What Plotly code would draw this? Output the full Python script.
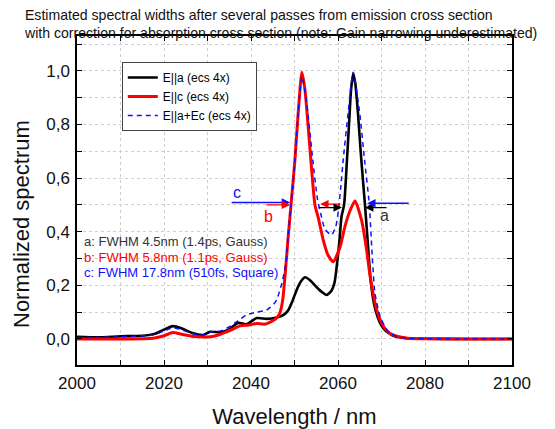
import plotly.graph_objects as go

# ---------------- data ----------------
title_text = ("Estimated spectral widths after several passes from emission cross section<br>"
              "with correction for absorption cross section (note: Gain narrowing underestimated)")

series_names = ["E||a (ecs 4x)", "E||c (ecs 4x)", "E||a+Ec (ecs 4x)"]

wl_a = [2000, 2005, 2010, 2015, 2018, 2020, 2022, 2024, 2026.5, 2029, 2030.6, 2033, 2035,
        2037, 2039, 2041.3, 2043.6, 2045.9, 2047.5, 2048.6, 2049.5, 2050.5, 2051.5, 2052.4,
        2053.5, 2055.1, 2056.3, 2057.4, 2058.5, 2059.2, 2059.7, 2060.3, 2060.8, 2061.4,
        2062.0, 2062.6, 2063.0, 2063.5, 2064.0, 2064.6, 2065.3, 2066.2, 2066.8, 2067.5,
        2068.3, 2069.1, 2070.0, 2071.0, 2071.8, 2073.0, 2075.6, 2080, 2090, 2100]
spec_a = [0.008, 0.006, 0.010, 0.012, 0.020, 0.035, 0.048, 0.040, 0.022, 0.015, 0.027, 0.025, 0.036,
          0.060, 0.055, 0.078, 0.075, 0.080, 0.090, 0.108, 0.140, 0.183, 0.215, 0.230,
          0.220, 0.193, 0.175, 0.164, 0.180, 0.210, 0.270, 0.360, 0.456, 0.500,
          0.650, 0.820, 0.930, 0.990, 0.950, 0.840, 0.680, 0.500, 0.370, 0.220,
          0.130, 0.083, 0.050, 0.030, 0.021, 0.010, 0.003, 0.001, 0.0, 0.0]

wl_c = [2000, 2010, 2017.5, 2020, 2022, 2024, 2026, 2028, 2030.6, 2032.5, 2034.4, 2036, 2037.5,
        2039.5, 2041.3, 2043.1, 2045.0, 2046.0, 2046.7, 2047.3, 2048.0, 2048.6, 2049.2, 2050.1,
        2050.9, 2051.7, 2052.4, 2053.2, 2054.0, 2054.7, 2055.5, 2056.6, 2057.7, 2058.9, 2060.5,
        2061.6, 2062.8, 2063.9, 2065.4, 2066.6, 2067.4, 2068.9, 2070.0, 2071.0, 2072.0, 2073.5,
        2076, 2080, 2090, 2100]
spec_c = [0.0, 0.0, 0.003, 0.012, 0.024, 0.018, 0.011, 0.008, 0.008, 0.015, 0.027, 0.038, 0.049,
          0.052, 0.058, 0.055, 0.068, 0.080, 0.100, 0.146, 0.270, 0.390, 0.500, 0.668,
          0.854, 0.995, 0.930, 0.780, 0.620, 0.500, 0.450, 0.370, 0.313, 0.288, 0.344,
          0.420, 0.480, 0.515, 0.444, 0.330, 0.232, 0.108, 0.060, 0.035, 0.020, 0.010,
          0.003, 0.001, 0.0, 0.0]

wl_ac = [2000, 2010, 2017.5, 2020, 2022, 2024, 2026.5, 2029, 2030.6, 2033, 2035, 2037, 2039,
         2041.3, 2043.6, 2044.4, 2045.2, 2045.9, 2047.1, 2048.0, 2048.6, 2049.2, 2050.1, 2050.9,
         2051.7, 2052.8, 2054.2, 2055.3, 2056.2, 2057.0, 2058.5, 2059.5, 2060.1, 2060.6, 2061.2,
         2062.4, 2063.5, 2064.9, 2066.1, 2067.2, 2067.9, 2068.5, 2069.7, 2071.0, 2072.0, 2073.5,
         2076, 2080, 2100]
spec_ac = [0.005, 0.008, 0.015, 0.030, 0.042, 0.035, 0.020, 0.015, 0.025, 0.030, 0.045, 0.068, 0.090,
           0.100, 0.108, 0.118, 0.130, 0.146, 0.208, 0.280, 0.400, 0.500, 0.670, 0.850,
           0.980, 0.880, 0.668, 0.520, 0.456, 0.410, 0.388, 0.420, 0.480, 0.560, 0.668,
           0.854, 0.995, 0.854, 0.668, 0.500, 0.300, 0.170, 0.083, 0.040, 0.020, 0.010,
           0.003, 0.001, 0.0]

fwhm_labels = ["a: FWHM 4.5nm (1.4ps, Gauss)", "b: FWHM 5.8nm (1.1ps, Gauss)",
               "c: FWHM 17.8nm (510fs, Square)"]
fwhm_y = [0.363, 0.305, 0.247]

arrow_head_x = [2049.0, 2049.0, 2055.9, 2060.9, 2066.2, 2066.7]
arrow_tail_x = [2035.2, 2043.2, 2060.9, 2055.2, 2071.5, 2076.6]
arrow_y = [0.509, 0.500, 0.503, 0.490, 0.490, 0.506]

letter_text = ["c", "b", "a"]
letter_x = [2036.8, 2044.1, 2070.8]
letter_y = [0.545, 0.455, 0.462]

x_tickvals = [2000, 2020, 2040, 2060, 2080, 2100]
y_tickvals = [0.0, 0.2, 0.4, 0.6, 0.8, 1.0]
y_ticktext = ["0,0", "0,2", "0,4", "0,6", "0,8", "1,0"]

x_title = "Wavelength / nm"
y_title = "Normalized spectrum"

# ---------------- styles ----------------
FONT = "Arial, 'Liberation Sans', sans-serif"
BLACK = "#000000"
RED = "#ff0000"
BLUE = "#1010ff"
text_colors = ["#333333", RED, BLUE]
arrow_colors = [BLUE, RED, RED, BLACK, BLACK, BLUE]
letter_colors = [BLUE, RED, "#333333"]

fig = go.Figure()
fig.add_trace(go.Scatter(x=wl_a, y=spec_a, mode="lines", name=series_names[0],
                         line=dict(color=BLACK, width=2.6, shape="spline", smoothing=0.6)))
fig.add_trace(go.Scatter(x=wl_c, y=spec_c, mode="lines", name=series_names[1],
                         line=dict(color=RED, width=3, shape="spline", smoothing=0.6)))
fig.add_trace(go.Scatter(x=wl_ac, y=spec_ac, mode="lines", name=series_names[2],
                         line=dict(color=BLUE, width=1.5, dash="5px,4px", shape="spline", smoothing=0.6)))

annotations = []
for t, yy, c in zip(fwhm_labels, fwhm_y, text_colors):
    annotations.append(dict(x=2001.2, y=yy, xref="x", yref="y", text=t, showarrow=False,
                            xanchor="left", yanchor="middle",
                            font=dict(family=FONT, size=13, color=c)))
for hx, tx, yy, c in zip(arrow_head_x, arrow_tail_x, arrow_y, arrow_colors):
    annotations.append(dict(x=hx, y=yy, ax=tx, ay=yy, xref="x", yref="y", axref="x", ayref="y",
                            text="", showarrow=True, arrowhead=2, arrowsize=1.2,
                            arrowwidth=1.4, arrowcolor=c, standoff=0, startstandoff=0))
for t, xx, yy, c in zip(letter_text, letter_x, letter_y, letter_colors):
    annotations.append(dict(x=xx, y=yy, xref="x", yref="y", text=t, showarrow=False,
                            font=dict(family=FONT, size=16, color=c)))
# y-axis title (placed as text, rotated)
annotations.append(dict(x=-0.1264, y=0.4286, xref="paper", yref="paper", text=y_title,
                        showarrow=False, textangle=-90, xanchor="center", yanchor="middle",
                        font=dict(family=FONT, size=22, color="#111")))

# page body has an 8px margin; figure is sized/offset to land on the 555x429 frame
fig.update_layout(
    width=547, height=421,
    margin=dict(l=69, r=43, t=28, b=64, autoexpand=False),
    paper_bgcolor="white", plot_bgcolor="white",
    font=dict(family=FONT, color="#000000"),
    title=dict(text=title_text, x=0.031, xanchor="left", xref="container",
               y=0.9715, yanchor="top", font=dict(family=FONT, size=14.1, color="#111111")),
    showlegend=True,
    legend=dict(x=0.103, y=0.921, xanchor="left", yanchor="top",
                bgcolor="white", bordercolor="#444444", borderwidth=1,
                font=dict(family=FONT, size=12, color="#000000"),
                tracegroupgap=0, itemwidth=30),
    annotations=annotations,
)

grid_common = dict(showgrid=True, gridcolor="#cfcfcf", griddash="3px,3px", gridwidth=1)

fig.update_xaxes(
    range=[2000, 2100], tickvals=x_tickvals, ticks="inside", ticklen=5, tickwidth=1,
    tickcolor="#000", showline=True, linecolor="#000", linewidth=1.5, mirror="ticks",
    tickfont=dict(family=FONT, size=17, color="#111"), zeroline=False, ticklabelstandoff=2,
    title=dict(text=x_title, font=dict(family=FONT, size=22, color="#111"), standoff=18),
    minor=dict(dtick=10, tick0=2000, ticks="inside", ticklen=5, tickcolor="#000",
               showgrid=True, gridcolor="#cfcfcf", griddash="3px,3px"),
    **grid_common,
)
fig.update_yaxes(
    range=[-0.097, 1.13], tickvals=y_tickvals, ticktext=y_ticktext, ticks="inside", ticklen=5,
    tickwidth=1, tickcolor="#000", showline=True, linecolor="#000", linewidth=1.5, mirror="ticks",
    tickfont=dict(family=FONT, size=17, color="#111"), zeroline=False, ticklabelstandoff=2,
    minor=dict(dtick=0.1, tick0=0, ticks="inside", ticklen=5, tickcolor="#000",
               showgrid=True, gridcolor="#cfcfcf", griddash="3px,3px"),
    **grid_common,
)

fig.write_html("out.html")
